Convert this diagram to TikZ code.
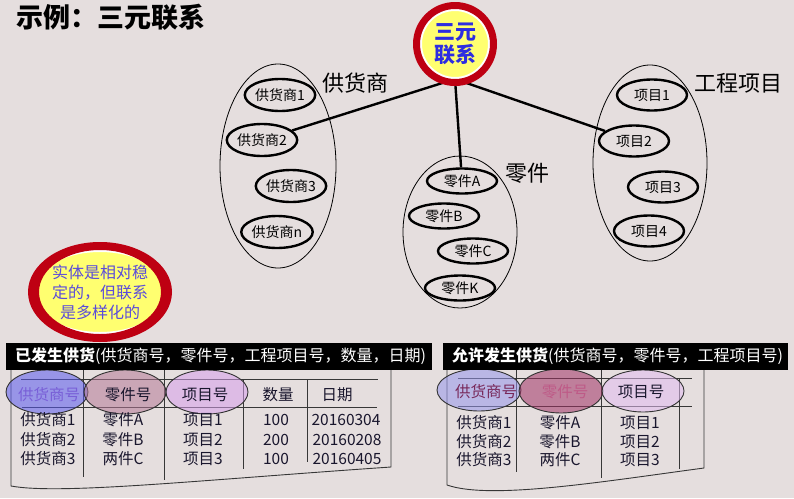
\documentclass[tikz,border=0pt]{standalone}
\usepackage{fontspec}
\setmainfont{Noto Sans CJK SC}
\usetikzlibrary{shapes.geometric}
\definecolor{bgc}{RGB}{229,222,222}
\definecolor{ringred}{RGB}{190,0,18}
\definecolor{yel}{RGB}{255,255,112}
\definecolor{tblue}{RGB}{45,45,225}
\definecolor{eblue}{RGB}{90,90,240}
\definecolor{eblueL}{RGB}{150,150,235}
\definecolor{emauve}{RGB}{180,120,150}
\definecolor{emauvedk}{RGB}{160,50,100}
\definecolor{epurple}{RGB}{215,160,235}
\definecolor{txt}{RGB}{25,22,45}
\definecolor{tline}{RGB}{55,55,55}
\definecolor{hblue}{RGB}{120,95,215}
\definecolor{hmaroon}{RGB}{120,40,90}
\definecolor{hpink}{RGB}{190,90,135}
\newcommand\myfs[1]{\fontsize{#1}{#1}\selectfont}
\pgfdeclarelayer{back}
\pgfsetlayers{back,main}
\begin{document}
\begin{tikzpicture}[x=1pt,y=-1pt,
 grp/.style={draw, ellipse, line width=0.8pt, inner sep=0pt},
 item/.style={draw, ellipse, line width=2.4pt, inner sep=0pt, minimum width=70pt, font=\myfs{14}},
 conn/.style={line width=2.4pt},
 glabel/.style={font=\myfs{22}, inner sep=0pt},
 tl/.style={draw=tline, line width=0.9pt},
 hdr/.style={draw=black!80, ellipse, line width=0.9pt, inner sep=0pt, fill opacity=0.55},
 cell/.style={font=\myfs{15.5}, text=txt, inner sep=0pt, text height=12pt, text depth=3pt},
 bar/.style={fill=black, text=white, font=\myfs{16}, align=left, inner xsep=9pt, inner ysep=0pt, minimum height=27pt, anchor=west}
]
\begin{pgfonlayer}{back}
\fill[bgc] (0,0) rectangle (794,498);
\end{pgfonlayer}
\useasboundingbox (0,0) rectangle (794,498);

% title
\node[font=\myfs{27}\bfseries, inner sep=0pt] (title) at (111,17) {示例：三元联系};

% group ellipses
\node[grp, minimum width=116pt, minimum height=204pt] (gS) at (278,166) {};
\node[grp, minimum width=114pt, minimum height=152pt] (gZ) at (460,232) {};
\node[grp, minimum width=114pt, minimum height=196pt] (gP) at (650,163) {};
\node[glabel] (lS) at (355,83) {供货商};
\node[glabel] (lZ) at (527,173) {零件};
\node[glabel] (lP) at (738,83) {工程项目};

% items
\node[item, minimum height=32pt] (s1) at (280,95) {供货商1};
\node[item, minimum height=32pt] (s2) at (262,140) {供货商2};
\node[item, minimum height=32pt] (s3) at (291,186) {供货商3};
\node[item, minimum height=32pt] (sn) at (277,232) {供货商n};
\node[item, minimum height=25pt] (z1) at (462,181) {零件A};
\node[item, minimum height=25pt] (z2) at (444,216) {零件B};
\node[item, minimum height=25pt] (z3) at (473,251) {零件C};
\node[item, minimum height=25pt] (zk) at (460,288) {零件K};
\node[item, minimum height=31pt] (p1) at (652,95) {项目1};
\node[item, minimum height=31pt] (p2) at (634,141) {项目2};
\node[item, minimum height=31pt] (p3) at (663,187) {项目3};
\node[item, minimum height=31pt] (p4) at (649,231) {项目4};

% relationship circle
\node[circle, fill=yel, draw=white, line width=2pt, minimum size=68pt, inner sep=0pt,
      text=tblue, font=\myfs{21}\bfseries, align=center] (tri) at (455,44) {三元\\[2pt]联系};
\fill[ringred, even odd rule] (tri.center) circle (42) (tri.center) circle (35);

\begin{pgfonlayer}{back}
\draw[conn] (tri.south) -- (s2);
\draw[conn] (tri.south) -- (z1);
\draw[conn] (tri.south) -- (p2);
\end{pgfonlayer}

% entity note
\node[ellipse, fill=yel, draw=white, line width=2pt, minimum width=120pt, minimum height=82pt,
      inner sep=0pt, text=hblue!60!tblue, font=\myfs{16}, align=center] (note) at (100,292)
      {实体是相对稳\\[4pt]定的，但联系\\[4pt]是多样化的};
\fill[ringred, even odd rule] (note.center) ellipse [x radius=72, y radius=50]
      (note.center) ellipse [x radius=61, y radius=42];

% ---------- left table ----------
\draw[tl] (11,370) -- (11,486) .. controls (60,495) and (200,480) .. (391,467) -- (391,370);
\draw[tl] (83,370) -- (83,477);
\draw[tl] (164,370) -- (164,480);
\draw[tl] (243,380) -- (243,469);
\draw[tl] (307,380) -- (307,462);
\draw[tl] (21,379) -- (378,379);
\draw[tl] (22,407) -- (377,407);
\node[hdr, fill=eblue, minimum width=82pt, minimum height=44pt] (hs1) at (47,392) {};
\node[hdr, fill=emauve, minimum width=82pt, minimum height=44pt] (hz1) at (125,392) {};
\node[hdr, fill=epurple, minimum width=82pt, minimum height=44pt] (hp1) at (207,392) {};
\node[cell, text=hblue] (t11) at (49,396) {供货商号};
\node[cell] (t12) at (128,396) {零件号};
\node[cell] (t13) at (205,396) {项目号};
\node[cell] (t14) at (278,396) {数量};
\node[cell] (t15) at (337,396) {日期};
\node[cell] (a11) at (48,421) {供货商1};
\node[cell] (a12) at (123,421) {零件A};
\node[cell] (a13) at (203,421) {项目1};
\node[cell] (a14) at (276,421) {100};
\node[cell] (a15) at (346,421) {20160304};
\node[cell] (a21) at (48,441) {供货商2};
\node[cell] (a22) at (123,441) {零件B};
\node[cell] (a23) at (203,441) {项目2};
\node[cell] (a24) at (276,441) {200};
\node[cell] (a25) at (347,441) {20160208};
\node[cell] (a31) at (48,460) {供货商3};
\node[cell] (a32) at (123,460) {两件C};
\node[cell] (a33) at (203,460) {项目3};
\node[cell] (a34) at (276,460) {100};
\node[cell] (a35) at (347,460) {20160405};
\node[bar, text width=408pt] (bar1) at (6,356.5) {\textbf{已发生供货}(供货商号，零件号，工程项目号，数量，日期)};

% ---------- right table ----------
\draw[tl] (447,369) -- (447,485) .. controls (490,500) and (600,482) .. (704,468) -- (704,369);
\draw[tl] (516,369) -- (516,472);
\draw[tl] (601,369) -- (601,478);
\draw[tl] (679,378) -- (679,469);
\draw[tl] (458,378) -- (692,378);
\draw[tl] (458,406) -- (692,406);
\node[hdr, fill=eblueL, minimum width=84pt, minimum height=42pt] (hs2) at (479,390) {};
\node[hdr, fill=emauvedk, minimum width=84pt, minimum height=44pt] (hz2) at (561,391) {};
\node[hdr, fill=epurple!70, minimum width=82pt, minimum height=42pt] (hp2) at (643,391) {};
\node[cell, text=hmaroon] (u11) at (486,393) {供货商号};
\node[cell, text=hpink] (u12) at (565,393) {零件号};
\node[cell] (u13) at (641,393) {项目号};
\node[cell] (b11) at (484,424) {供货商1};
\node[cell] (b12) at (560,424) {零件A};
\node[cell] (b13) at (640,424) {项目1};
\node[cell] (b21) at (484,443) {供货商2};
\node[cell] (b22) at (560,443) {零件B};
\node[cell] (b23) at (640,443) {项目2};
\node[cell] (b31) at (484,461) {供货商3};
\node[cell] (b32) at (560,461) {两件C};
\node[cell] (b33) at (640,461) {项目3};
\node[bar, text width=327pt] (bar2) at (443,356) {\textbf{允许发生供货}(供货商号，零件号，工程项目号)};
\end{tikzpicture}
\end{document}
